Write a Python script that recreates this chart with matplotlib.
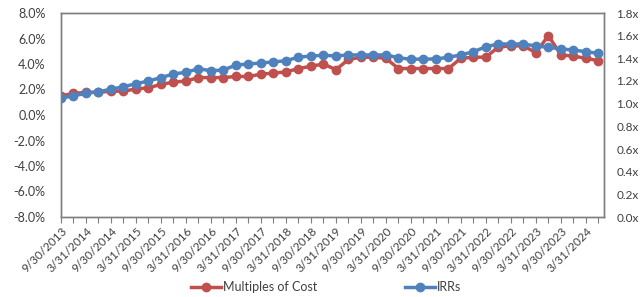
import matplotlib
matplotlib.use("Agg")
import matplotlib.pyplot as plt
import matplotlib.ticker as mticker
import pandas as pd

quarters = pd.date_range("2013-09-30", periods=44, freq="QE")
categories = [f"{d.month}/{d.day}/{d.year}" for d in quarters]

irrs = [1.31, 1.51, 1.70, 1.83, 2.02, 2.22, 2.45, 2.67, 2.93, 3.22,
        3.35, 3.63, 3.47, 3.53, 3.92, 4.00, 4.08, 4.16, 4.26, 4.53,
        4.63, 4.68, 4.63, 4.71, 4.71, 4.71, 4.71, 4.49, 4.37, 4.39,
        4.39, 4.53, 4.71, 4.96, 5.36, 5.57, 5.57, 5.57, 5.41, 5.31,
        5.18, 5.10, 4.96, 4.84]

multiples = [1.07, 1.09, 1.10, 1.10, 1.11, 1.11, 1.13, 1.14, 1.17, 1.19,
             1.20, 1.23, 1.23, 1.23, 1.24, 1.24, 1.26, 1.27, 1.28, 1.31,
             1.33, 1.35, 1.30, 1.39, 1.41, 1.41, 1.40, 1.31, 1.31, 1.31,
             1.31, 1.31, 1.40, 1.41, 1.41, 1.50, 1.51, 1.51, 1.45, 1.60,
             1.43, 1.42, 1.40, 1.38]

red = "#C0504D"
blue = "#4F81BD"
txt = "#404040"
spine_c = "#7f7f7f"

plt.rcParams["font.family"] = ["Lato", "DejaVu Sans"]

fig = plt.figure(figsize=(6.43, 2.97), dpi=100)
ax = fig.add_axes([61/643, 1-217/297, (604-61)/643, (217-13)/297])
ax2 = ax.twinx()

x = list(range(len(categories)))
ax2.plot(x, multiples, color=red, lw=2.5, marker="o", ms=6,
         label="Multiples of Cost")
ax.plot(x, irrs, color=blue, lw=2.5, marker="o", ms=6, label="IRRs")

ax.set_zorder(ax2.get_zorder() + 1)
ax.patch.set_visible(False)

ax.set_ylim(-8, 8)
ax.set_yticks(range(-8, 9, 2))
ax.yaxis.set_major_formatter(mticker.FuncFormatter(lambda v, p: f"{v:.1f}%"))
ax2.set_ylim(0, 1.8)
ax2.set_yticks([i * 0.2 for i in range(10)])
ax2.yaxis.set_major_formatter(mticker.FuncFormatter(lambda v, p: f"{v:.1f}x"))

ax.set_xlim(0, 43.45)
ax.set_xticks(x)
ax.set_xticklabels([c if i % 2 == 0 else "" for i, c in enumerate(categories)],
                   rotation=45, ha="right", rotation_mode="anchor")

for a in (ax, ax2):
    for s in a.spines.values():
        s.set_color(spine_c)
        s.set_linewidth(1.0)
ax.tick_params(axis="y", length=0, labelsize=9, colors=txt, pad=11)
ax2.tick_params(axis="y", length=0, labelsize=8.5, colors=txt, pad=9)
ax.tick_params(axis="x", length=4, direction="out", color=spine_c,
               labelsize=8.5, labelcolor=txt, pad=2)

h2, l2 = ax2.get_legend_handles_labels()
h1, l1 = ax.get_legend_handles_labels()
fig.legend(h2 + h1, l2 + l1, loc="center", bbox_to_anchor=(326/643, 1-287/297),
           ncol=2, frameon=False, fontsize=9, columnspacing=7.0,
           handlelength=2.4, handletextpad=0.15, labelcolor=txt)

fig.savefig("out.png", dpi=100)
